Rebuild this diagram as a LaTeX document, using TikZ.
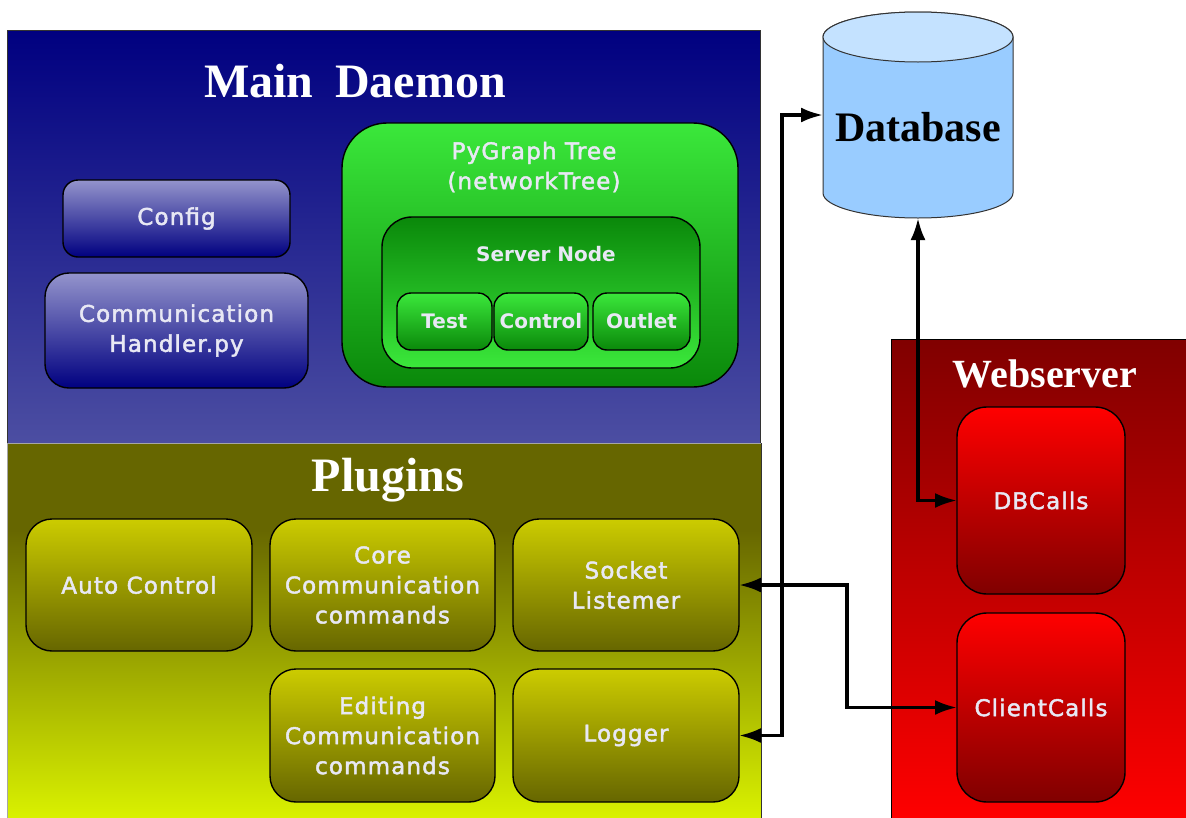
\documentclass[tikz,border=0pt]{standalone}
\usepackage{fontspec}
\setmainfont{Liberation Serif}
\newfontfamily\labelfont[LetterSpace=5, FakeBold=2]{DejaVu Sans}
\newfontfamily\tagfont{DejaVu Sans}
\usetikzlibrary{arrows.meta}

% palette
\definecolor{navy}{HTML}{000080}
\definecolor{mdbot}{HTML}{4C4EA2}
\definecolor{lav}{HTML}{9494CC}
\definecolor{gtop}{HTML}{3BE83B}
\definecolor{gbot}{HTML}{0A880A}
\definecolor{dbbody}{HTML}{99CCFF}
\definecolor{dbtop}{HTML}{C4E2FF}
\definecolor{wtop}{HTML}{800000}
\definecolor{wbot}{HTML}{FF0000}
\definecolor{ptop}{HTML}{666600}
\definecolor{pbot}{HTML}{DEF700}
\definecolor{ybtop}{HTML}{CCCC00}
\definecolor{txt}{HTML}{E8E8F4}

% olive band on top, fading into yellow towards the bottom
\pgfdeclareverticalshading{plugshade}{100bp}{color(0bp)=(pbot); color(25bp)=(pbot); color(64bp)=(ptop); color(100bp)=(ptop)}

\begin{document}
\begin{tikzpicture}[x=1pt,y=-1pt,
  every node/.style={outer sep=0pt, inner sep=0pt},
  outline/.style={draw=black, line width=1.4pt},
  boxtext/.style={text=txt, align=center, font=\labelfont\fontsize{23}{30}\selectfont},
  tagtext/.style={text=txt, align=center, font=\tagfont\bfseries\fontsize{20}{24}\selectfont},
  heading/.style={text=white, font=\bfseries\fontsize{48}{52}\selectfont, text depth=0pt},
  navybox/.style={outline, boxtext, top color=lav, bottom color=navy},
  greenbox/.style={outline, top color=gtop, bottom color=gbot},
  greenboxinv/.style={outline, top color=gbot, bottom color=gtop},
  olivebox/.style={outline, boxtext, top color=ybtop, bottom color=ptop, rounded corners=26pt},
  redbox/.style={outline, boxtext, top color=wbot, bottom color=wtop, rounded corners=30pt},
  wire/.style={line width=3.4pt, draw=black},
  >={Latex[length=22pt,width=15pt]}
]
\useasboundingbox (0,0) rectangle (1186,817);
\clip (0,0) rectangle (1186,817);
\fill[white] (0,0) rectangle (1186,817);

% ---- Main Daemon panel ----
\shade[top color=navy, bottom color=mdbot, draw=black!80, line width=1pt] (7,30) rectangle (760,443);
\node[heading] (mdtitle) at (355,81) {Main\hspace{22pt}Daemon};

\node[navybox, rounded corners=15pt, minimum width=227pt, minimum height=77pt] (config) at (176.5,218.5) {Config};
\node[navybox, rounded corners=24pt, minimum width=263pt, minimum height=115pt] (handler) at (176.5,330.5) {Communication\\Handler.py};

\node[greenbox, rounded corners=45pt, minimum width=396pt, minimum height=264pt] (pygraph) at (540,255) {};
\node[boxtext] (pytitle) at (534,167) {PyGraph Tree\\(networkTree)};
\node[greenboxinv, rounded corners=30pt, minimum width=318pt, minimum height=151pt] (server) at (541,292.5) {};
\node[tagtext] (servertitle) at (546,254.5) {Server Node};
\node[greenbox, tagtext, rounded corners=14pt, minimum width=95pt, minimum height=57pt] (test) at (444.5,321.5) {Test};
\node[greenbox, tagtext, rounded corners=14pt, minimum width=94pt, minimum height=57pt] (control) at (541,321.5) {Control};
\node[greenbox, tagtext, rounded corners=14pt, minimum width=97pt, minimum height=57pt] (outlet) at (641.5,321.5) {Outlet};

% ---- Plugins panel ----
\shade[shading=plugshade, draw=gray!70, line width=1pt] (7,443) rectangle (761,830);
\draw[black!80, line width=1pt] (761,443) -- (761,830);
\node[heading] (pltitle) at (388,475) {Plugins};

\node[olivebox, minimum width=226pt, minimum height=132pt] (auto) at (139,585) {Auto Control};
\node[olivebox, minimum width=225pt, minimum height=132pt] (core) at (382.5,585) {Core\\Communication\\commands};
\node[olivebox, minimum width=226pt, minimum height=132pt] (socket) at (626,585) {Socket\\Listemer};
\node[olivebox, minimum width=225pt, minimum height=133pt] (editing) at (382.5,735.5) {Editing\\Communication\\commands};
\node[olivebox, minimum width=226pt, minimum height=133pt] (logger) at (626,735.5) {Logger};

% ---- Webserver panel ----
\shade[top color=wtop, bottom color=wbot, draw=black, line width=1pt] (891,339) rectangle (1195,820);
\node[heading, font=\bfseries\fontsize{40}{44}\selectfont] (wstitle) at (1045,374) {Webserver};
\node[redbox, minimum width=168pt, minimum height=187pt] (dbcalls) at (1041,500.5) {DBCalls};
\node[redbox, minimum width=168pt, minimum height=189pt] (client) at (1041,707.5) {ClientCalls};

% ---- Database cylinder ----
\filldraw[fill=dbbody, draw=black!80, line width=1pt]
  (823,37) -- (823,193) arc[start angle=180, end angle=360, x radius=95pt, y radius=25pt]
  -- (1013,37) arc[start angle=0, end angle=180, x radius=95pt, y radius=25pt] -- cycle;
\filldraw[fill=dbtop, draw=black!80, line width=1pt] (918,37) ellipse [x radius=95pt, y radius=25pt];
\node[minimum width=190pt, minimum height=206pt] (db) at (918,115) {};
\node[font=\bfseries\fontsize{42}{46}\selectfont, text depth=0pt] (dblabel) at (918,127) {Database};

% ---- connectors ----
\coordinate (bus) at (782,400);
\coordinate (jog) at (847,650);
\draw[wire, <->] (logger.east) -| (bus) |- (db.west);
\draw[wire, <->] (socket.east) -| (jog) |- (client.west);
\draw[wire, <->] (db.south) |- (dbcalls.west);
\end{tikzpicture}
\end{document}
